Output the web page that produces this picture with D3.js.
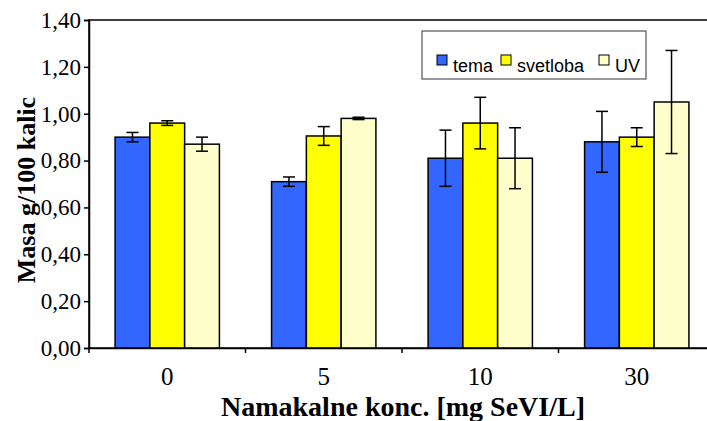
<!DOCTYPE html>
<html>
<head>
<meta charset="utf-8">
<script src="https://cdn.jsdelivr.net/npm/d3@7"></script>
<style>
  body { margin: 0; background: #fff; }
  svg { display: block; }
</style>
</head>
<body>
<div id="chart"></div>
<script>
// Data
const categories = ['0', '5', '10', '30'];
const series = ['tema', 'svetloba', 'UV'];
const temaValues = [0.90, 0.71, 0.81, 0.88];
const temaErrors = [0.02, 0.02, 0.12, 0.13];
const svetlobaValues = [0.96, 0.905, 0.96, 0.90];
const svetlobaErrors = [0.01, 0.04, 0.11, 0.04];
const uvValues = [0.87, 0.98, 0.81, 1.05];
const uvErrors = [0.03, 0.005, 0.13, 0.22];
const yTicks = [0, 0.2, 0.4, 0.6, 0.8, 1.0, 1.2, 1.4];
const colors = ['#3366ff', '#ffff00', '#ffffcc'];

const valuesBySeries = [temaValues, svetlobaValues, uvValues];
const errorsBySeries = [temaErrors, svetlobaErrors, uvErrors];

const data = [];
categories.forEach((c, i) => {
    series.forEach((s, j) => {
        data.push({cat: c, series: s, value: valuesBySeries[j][i], err: errorsBySeries[j][i], color: colors[j]});
    });
});

// Layout
const W = 707, H = 421;
const margin = {top: 20, left: 89};
const width = 626, height = 328;
const serif = '"Liberation Serif", "Times New Roman", serif';

const svg = d3.select('#chart').append('svg')
    .attr('width', W)
    .attr('height', H);

const g = svg.append('g')
    .attr('transform', `translate(${margin.left},${margin.top})`);

const x0 = d3.scaleBand().domain(categories).range([0, width]).padding(0);
const x1 = d3.scaleBand().domain(series)
    .range([x0.bandwidth() / 6, x0.bandwidth() * 5 / 6]).padding(0);
const y = d3.scaleLinear().domain([0, 1.4]).range([height, 0]);

const comma = v => d3.format('.2f')(v).replace('.', ',');

// plot frame
g.append('rect')
    .attr('x', 0).attr('y', 0)
    .attr('width', width).attr('height', height)
    .attr('fill', 'none')
    .attr('stroke', '#000')
    .attr('stroke-width', 1.5);

// bars
g.selectAll('.bar')
    .data(data)
    .enter().append('rect')
    .attr('class', 'bar')
    .attr('x', d => x0(d.cat) + x1(d.series))
    .attr('y', d => y(d.value))
    .attr('width', x1.bandwidth())
    .attr('height', d => height - y(d.value))
    .attr('fill', d => d.color)
    .attr('stroke', '#000')
    .attr('stroke-width', 1.5);

// error bars
const cap = 6;
const cx = d => x0(d.cat) + x1(d.series) + x1.bandwidth() / 2;
const eb = g.selectAll('.err')
    .data(data)
    .enter().append('g')
    .attr('class', 'err')
    .attr('stroke', '#000')
    .attr('stroke-width', 1.5);
eb.append('line')
    .attr('x1', cx).attr('x2', cx)
    .attr('y1', d => y(d.value + d.err))
    .attr('y2', d => y(d.value - d.err));
eb.append('line')
    .attr('x1', d => cx(d) - cap).attr('x2', d => cx(d) + cap)
    .attr('y1', d => y(d.value + d.err))
    .attr('y2', d => y(d.value + d.err));
eb.append('line')
    .attr('x1', d => cx(d) - cap).attr('x2', d => cx(d) + cap)
    .attr('y1', d => y(d.value - d.err))
    .attr('y2', d => y(d.value - d.err));

// y axis
const yAxis = g.append('g')
    .call(d3.axisLeft(y).tickValues(yTicks).tickFormat(comma).tickSize(5).tickPadding(3));
yAxis.select('.domain').attr('stroke-width', 1.5);
yAxis.selectAll('.tick line').attr('stroke-width', 1.5);
yAxis.selectAll('text')
    .style('font-family', serif)
    .style('font-size', '23px')
    .attr('fill', '#000');

// x axis: labels centered on categories, ticks at category boundaries
const xAxis = g.append('g')
    .attr('transform', `translate(0,${height})`)
    .call(d3.axisBottom(x0).tickSize(0).tickPadding(19));
xAxis.select('.domain').attr('stroke-width', 1.5);
xAxis.selectAll('text')
    .style('font-family', serif)
    .style('font-size', '25px')
    .attr('fill', '#000');

const boundaries = categories.map(c => x0(c)).concat([width]);
xAxis.selectAll('.bound')
    .data(boundaries)
    .enter().append('line')
    .attr('class', 'bound')
    .attr('x1', d => d).attr('x2', d => d)
    .attr('y1', 0).attr('y2', 5)
    .attr('stroke', '#000')
    .attr('stroke-width', 1.5);

// axis titles
svg.append('text')
    .attr('x', 403)
    .attr('y', 416)
    .attr('text-anchor', 'middle')
    .style('font-family', serif)
    .style('font-size', '28px')
    .style('font-weight', 'bold')
    .text('Namakalne konc. [mg SeVI/L]');

svg.append('text')
    .attr('transform', 'translate(35,190) rotate(-90)')
    .attr('text-anchor', 'middle')
    .style('font-family', serif)
    .style('font-size', '26px')
    .style('font-weight', 'bold')
    .text('Masa g/100 kalic');

// legend
const legend = svg.append('g').attr('transform', 'translate(422,31)');
legend.append('rect')
    .attr('width', 224).attr('height', 48)
    .attr('fill', '#fff')
    .attr('stroke', '#333')
    .attr('stroke-width', 1);
const legendX = [15, 79, 177];
series.forEach((s, i) => {
    const item = legend.append('g').attr('transform', `translate(${legendX[i]},24)`);
    item.append('rect')
        .attr('width', 10).attr('height', 10)
        .attr('fill', colors[i])
        .attr('stroke', '#000')
        .attr('stroke-width', 1);
    item.append('text')
        .attr('x', 16).attr('y', 17)
        .style('font-family', '"Liberation Sans", Arial, sans-serif')
        .style('font-size', '18px')
        .attr('fill', '#000')
        .text(s);
});
</script>
</body>
</html>
